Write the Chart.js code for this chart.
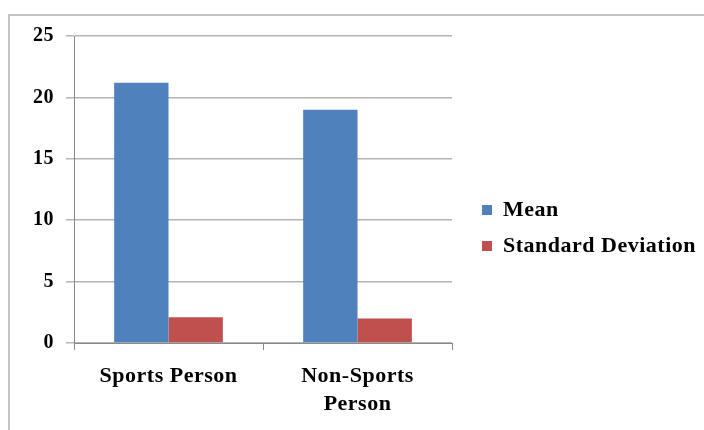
<!DOCTYPE html>
<html>
<head>
<meta charset="utf-8">
<script src="https://cdn.jsdelivr.net/npm/chart.js@4/dist/chart.umd.min.js"></script>
<style>
  html, body { margin: 0; padding: 0; background: #ffffff; width: 704px; height: 430px; overflow: hidden; }
  #frame { position: absolute; left: 8px; top: 14px; width: 720px; height: 440px;
           border-top: 2px solid #c4c4c4; border-left: 2px solid #c4c4c4; }
  #c { position: absolute; left: 0; top: 0; }
</style>
</head>
<body>
<div id="frame"></div>
<canvas id="c" width="704" height="430"></canvas>
<script>
const categories = [["Sports Person"], ["Non-Sports", "Person"]];
const seriesNames = ["Mean", "Standard Deviation"];
const meanValues = [21.2, 19.0];
const sdValues = [2.1, 2.0];
const yTicks = [0, 5, 10, 15, 20, 25];

const FAMILY = "'Liberation Serif', 'Times New Roman', serif";
const LABEL_FONT = { family: FAMILY, size: 22, weight: 'bold', lineHeight: 1.25 };
const TICK_FONT = { family: FAMILY, size: 20, weight: 'bold' };
const LEGEND_SHIFT = 16;
const LEGEND_EXTRA = 7;

const helperPlugin = {
  id: 'helper',
  beforeLayout(chart) {
    chart.ctx.letterSpacing = '0.5px';
    const lg = chart.legend;
    if (lg && !lg._wrappedFit) {
      const orig = lg.fit;
      lg.fit = function () {
        orig.call(this);
        this.width += LEGEND_EXTRA;
      };
      lg._wrappedFit = true;
    }
  },
  afterLayout(chart) {
    const lg = chart.legend;
    if (lg) { lg.left += LEGEND_SHIFT; lg.right += LEGEND_SHIFT; }
  },
  beforeDraw(chart) { chart.ctx.letterSpacing = '0.5px'; }
};

new Chart(document.getElementById('c'), {
  type: 'bar',
  data: {
    labels: categories,
    datasets: [
      { label: seriesNames[0], data: meanValues, backgroundColor: '#4F81BD', borderWidth: 0 },
      { label: seriesNames[1], data: sdValues, backgroundColor: '#C0504D', borderWidth: 0 }
    ]
  },
  options: {
    responsive: false,
    animation: false,
    devicePixelRatio: 1,
    layout: { padding: { left: 21, top: 36, right: 7, bottom: 10 } },
    plugins: {
      legend: {
        position: 'right',
        maxWidth: 320,
        labels: { boxWidth: 10, boxHeight: 10, font: LABEL_FONT, color: '#000', padding: 14 }
      },
      tooltip: { enabled: false }
    },
    scales: {
      x: {
        afterFit(axis) { axis.height = 77; },
        grid: { drawOnChartArea: false, color: '#8a8a8a', tickLength: 7 },
        border: { color: '#8a8a8a' },
        ticks: { font: LABEL_FONT, color: '#000', padding: 13 }
      },
      y: {
        min: 0, max: 25,
        afterBuildTicks(axis) { axis.ticks = yTicks.map(v => ({ value: v })); },
        grid: { color: '#b4b4b4', lineWidth: 1.5, tickLength: 8 },
        border: { color: '#8a8a8a' },
        ticks: { font: TICK_FONT, color: '#000', padding: 12 }
      }
    },
    datasets: { bar: { barPercentage: 1, categoryPercentage: 0.575 } }
  },
  plugins: [helperPlugin]
});
</script>
</body>
</html>
